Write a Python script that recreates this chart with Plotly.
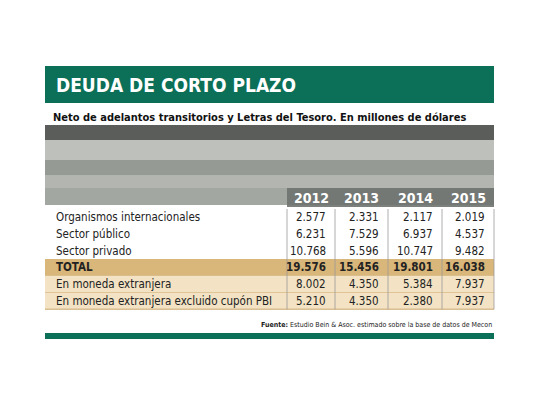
import plotly.graph_objects as go

title = "DEUDA DE CORTO PLAZO"
subtitle = "Neto de adelantos transitorios y Letras del Tesoro. En millones de dólares"
years = ["2012", "2013", "2014", "2015"]
rows = ["Organismos internacionales", "Sector público", "Sector privado", "TOTAL",
        "En moneda extranjera", "En moneda extranjera excluido cupón PBI"]
values = [
    ["2.577", "2.331", "2.117", "2.019"],
    ["6.231", "7.529", "6.937", "4.537"],
    ["10.768", "5.596", "10.747", "9.482"],
    ["19.576", "15.456", "19.801", "16.038"],
    ["8.002", "4.350", "5.384", "7.937"],
    ["5.210", "4.350", "2.380", "7.937"],
]
source = "<b>Fuente:</b> Estudio Bein & Asoc. estimado sobre la base de datos de Mecon"

FONT = "DejaVu Sans Condensed, Liberation Sans Narrow, sans-serif"
GREEN = "#0b7057"
L, R = 45, 494
col_edges = [287, 335, 388, 442, R]
row_top, row_h = 209, 16.7
row_fill = ["white", "white", "white", "#d9b679", "#f3e2c4", "#f3e2c4"]

fig = go.Figure()
shapes = []
ann = []

# header bar
shapes.append(dict(type="rect", x0=L, x1=R, y0=66, y1=103, fillcolor=GREEN, line_width=0))
ann.append(dict(x=L + 9, y=85, text=f"<b>{title}</b>", xanchor="left", showarrow=False,
                font=dict(family=FONT, size=19, color="white")))
ann.append(dict(x=L + 6, y=117, text=f"<b>{subtitle}</b>", xanchor="left", showarrow=False,
                font=dict(family=FONT, size=11, color="#111")))

# photo stand-in
shapes.append(dict(type="rect", x0=L, x1=R, y0=125, y1=205, fillcolor="#a3a7a2", line_width=0))
for y0, y1, c in [(125, 140, "#3a3d3a"), (140, 160, "#c9cbc6"), (160, 175, "#8f948f"),
                  (175, 188, "#b8bbb6")]:
    shapes.append(dict(type="rect", x0=L, x1=R, y0=y0, y1=y1, fillcolor=c, line_width=0, opacity=0.7))
shapes.append(dict(type="rect", x0=col_edges[0], x1=R, y0=188, y1=207, fillcolor="#6f736f",
                   line_width=0, opacity=0.9))
for i, yr in enumerate(years):
    ann.append(dict(x=(col_edges[i] + col_edges[i + 1]) / 2, y=198, text=f"<b>{yr}</b>",
                    showarrow=False, font=dict(family=FONT, size=14, color="white")))

# table rows
for r, (name, vals) in enumerate(zip(rows, values)):
    y0 = row_top + r * row_h
    shapes.append(dict(type="rect", x0=L, x1=R, y0=y0, y1=y0 + row_h, fillcolor=row_fill[r], line_width=0))
    if r >= 3:
        shapes.append(dict(type="line", x0=L, x1=R, y0=y0 + row_h, y1=y0 + row_h,
                           line=dict(color="#c9a66a", width=1)))
    bold = r == 3
    t = f"<b>{name}</b>" if bold else name
    ann.append(dict(x=L + 9, y=y0 + row_h / 2, text=t, xanchor="left", showarrow=False,
                    font=dict(family=FONT, size=11.5, color="#222")))
    for i, v in enumerate(vals):
        ann.append(dict(x=col_edges[i + 1] - 7, y=y0 + row_h / 2, text=f"<b>{v}</b>" if bold else v,
                        xanchor="right", showarrow=False, font=dict(family=FONT, size=11.5, color="#222")))
bottom = row_top + len(rows) * row_h
for x in col_edges[:-1]:
    shapes.append(dict(type="line", x0=x, x1=x, y0=row_top, y1=bottom, line=dict(color="#999", width=0.8)))
shapes.append(dict(type="line", x0=R, x1=R, y0=row_top, y1=bottom, line=dict(color="#999", width=0.8)))

ann.append(dict(x=R, y=325, text=source, xanchor="right", showarrow=False,
                font=dict(family=FONT, size=7, color="#222")))
shapes.append(dict(type="rect", x0=L, x1=R, y0=333, y1=339, fillcolor=GREEN, line_width=0))

# ranges offset by the page's 8px body margin
fig.update_layout(
    width=540, height=405, margin=dict(l=0, r=0, t=0, b=0),
    paper_bgcolor="white", plot_bgcolor="white",
    xaxis=dict(range=[8, 548], visible=False, fixedrange=True),
    yaxis=dict(range=[413, 8], visible=False, fixedrange=True),
    shapes=shapes, annotations=ann, showlegend=False,
)
fig.write_html("out.html")
